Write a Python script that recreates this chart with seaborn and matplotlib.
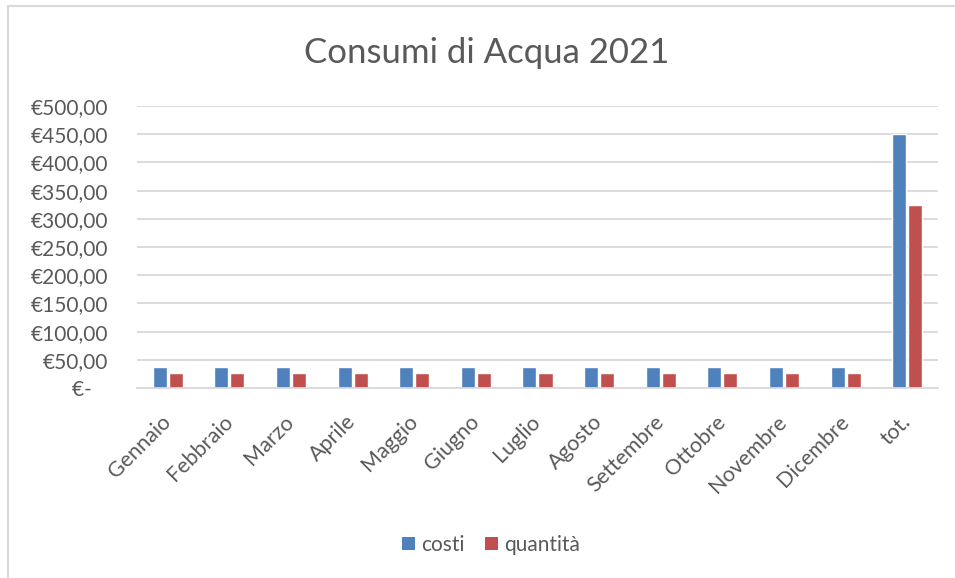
import pandas as pd
import matplotlib
matplotlib.use("Agg")
import matplotlib.pyplot as plt
from matplotlib.patches import Patch
from matplotlib.ticker import FixedLocator, FuncFormatter
from matplotlib.lines import Line2D
import seaborn as sns

# data
mesi = ["Gennaio", "Febbraio", "Marzo", "Aprile", "Maggio", "Giugno", "Luglio",
        "Agosto", "Settembre", "Ottobre", "Novembre", "Dicembre", "tot."]
costi = [37.5] * 12 + [450.0]
quantita = [27.0] * 12 + [324.0]
serie = ["costi", "quantità"]
colori = {"costi": "#4F81BD", "quantità": "#C0504D"}

df = pd.DataFrame({
    "mese": mesi * 2,
    "valore": costi + quantita,
    "serie": [serie[0]] * len(mesi) + [serie[1]] * len(mesi),
})

sns.set_style("white")
plt.rcParams["font.family"] = ["Lato", "DejaVu Sans"]
TXT = "#595959"
GRID = "#D9D9D9"

fig = plt.figure(figsize=(9.55, 5.78), dpi=100)
ax = fig.add_axes([0.14346, 0.3287, 0.8387, 0.4879])

sns.barplot(data=df, x="mese", y="valore", hue="serie", palette=colori,
            width=0.52, gap=0.125, order=mesi, hue_order=serie,
            legend=False, ax=ax, saturation=1)

ax.set_ylim(0, 500)
ax.set_xlim(-0.5, len(mesi) - 0.5)
ax.yaxis.set_major_locator(FixedLocator(range(0, 501, 50)))


def euro(v, pos):
    if v == 0:
        return "€-   "
    return ("€%.2f" % v).replace(".", ",")


ax.yaxis.set_major_formatter(FuncFormatter(euro))
ax.grid(axis="y", color=GRID, linewidth=1.3)
ax.set_axisbelow(True)
for s in ["left", "right", "top"]:
    ax.spines[s].set_visible(False)
ax.spines["bottom"].set_color(GRID)
ax.spines["bottom"].set_linewidth(1.3)
ax.set_xlabel("")
ax.set_ylabel("")
ax.tick_params(axis="y", length=0, pad=21, labelsize=15, labelcolor=TXT)
ax.tick_params(axis="x", length=0, pad=22, labelsize=15.5, labelcolor=TXT)
for lab in ax.get_xticklabels():
    lab.set_rotation(45)
    lab.set_ha("right")
    lab.set_va("center")
    lab.set_rotation_mode("anchor")

fig.text(0.51, 1 - 63 / 578, "Consumi di Acqua 2021", ha="center",
         va="baseline", fontsize=25, color=TXT)

handles = [Patch(facecolor=colori[s], edgecolor="none", label=s) for s in serie]
fig.legend(handles=handles, loc="center", bbox_to_anchor=(491 / 955, 1 - 545 / 578),
           ncol=2, frameon=False, fontsize=15, labelcolor=TXT,
           handlelength=0.62, handleheight=0.62, handletextpad=0.3,
           columnspacing=1.0)

# chart area border (top and left edges visible)
fig.add_artist(Line2D([8 / 955, 8 / 955], [0, 1 - 6 / 578], transform=fig.transFigure,
                      color=GRID, linewidth=1.5))
fig.add_artist(Line2D([8 / 955, 1], [1 - 6 / 578, 1 - 6 / 578], transform=fig.transFigure,
                      color=GRID, linewidth=1.5))

fig.savefig("out.png", dpi=100)
